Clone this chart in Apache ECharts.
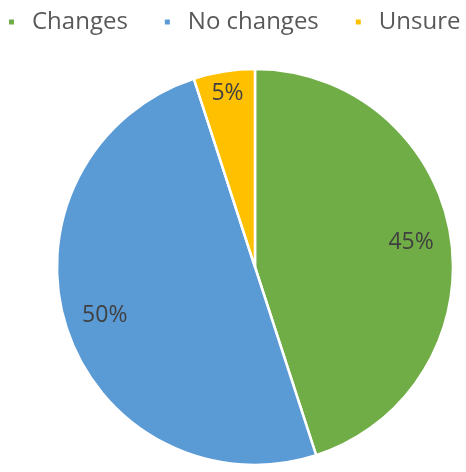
<!DOCTYPE html>
<html><head><meta charset="utf-8">
<script src="https://cdn.jsdelivr.net/npm/echarts@6/dist/echarts.min.js"></script>
<style>html,body{margin:0;padding:0;background:#fff}#c{width:466px;height:472px}</style>
</head><body><div id="c"></div>
<script>
const categories = ['Changes', 'No changes', 'Unsure'];
const values = [45, 50, 5];
const colors = ['#70AD47', '#5B9BD5', '#FFC000'];

const data = categories.map((n, i) => ({ name: n, value: values[i], itemStyle: { color: colors[i] } }));
const labelStyle = { show: true, position: 'inside', formatter: '{d}%', fontFamily: 'Open Sans', fontSize: 23, color: '#404040' };
function labelSeries(inner, showIdx) {
  return {
    type: 'pie', center: [255, 267], radius: [inner, 198],
    startAngle: 90, clockwise: true, silent: true,
    itemStyle: { color: 'transparent', borderWidth: 0 },
    label: labelStyle, labelLine: { show: false },
    emphasis: { disabled: true },
    data: categories.map((n, i) => ({ name: n, value: values[i], itemStyle: { color: 'transparent' }, label: { show: showIdx.includes(i) } }))
  };
}
const chart = echarts.init(document.getElementById('c'), null, { renderer: 'canvas' });
chart.setOption({
  animation: false,
  legend: {
    top: 10, left: 7, width: 460, padding: 0,
    icon: 'rect', itemWidth: 7, itemHeight: 7, itemGap: 35,
    textStyle: { fontFamily: 'Open Sans', fontSize: 24, color: '#595959', padding: [0, 0, 0, 12] },
    data: categories
  },
  series: [{
    type: 'pie', center: [255, 267], radius: [0, 198],
    startAngle: 90, clockwise: true,
    itemStyle: { borderColor: '#fff', borderWidth: 2.5 },
    label: { show: false }, labelLine: { show: false },
    emphasis: { disabled: true },
    data: data
  }, labelSeries(112, [0, 1]), labelSeries(147, [2])]
});
</script></body></html>
